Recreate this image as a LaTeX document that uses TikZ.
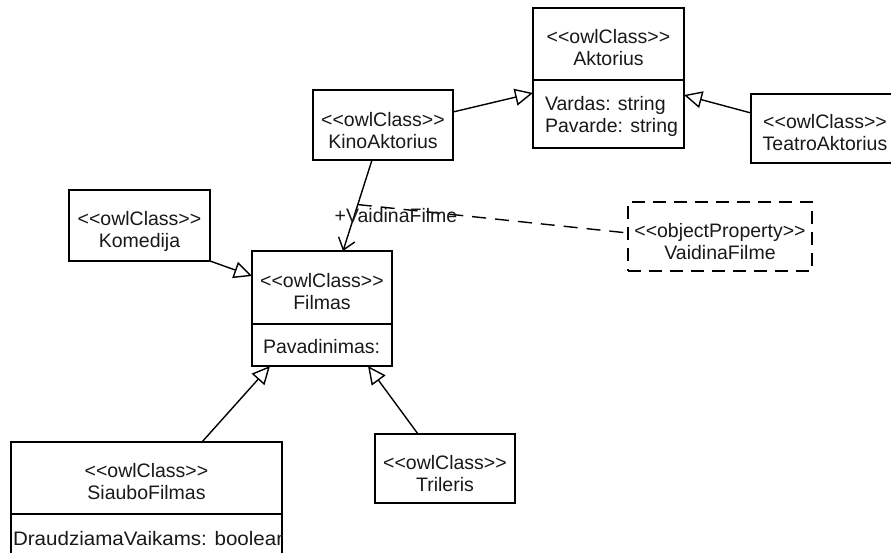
\documentclass[tikz,border=0pt]{standalone}
\usepackage{fontspec}
\newfontfamily\umlfont{Liberation Sans}
\newfontfamily\umlwide[FakeStretch=1.055]{Liberation Sans}
\usetikzlibrary{arrows.meta}
\newcommand\stereo[1]{<{}<#1>{}>}
\begin{document}
\begin{tikzpicture}[x=1pt,y=-1pt,
  every node/.style={inner sep=0pt, outer sep=0pt},
  umltext/.style={font=\umlfont\fontsize{19.5}{22}\selectfont, text=black!90},
  classbox/.style={draw, line width=1.4pt, rectangle, anchor=north west},
  propbox/.style={classbox, dashed, dash pattern=on 13pt off 8pt},
  header/.style={umltext, align=center},
  attrs/.style={umltext, align=left, anchor=west},
  gen/.style={line width=1.4pt, -{Triangle[open, length=18pt, width=17pt, fill=white]}},
  assoc/.style={line width=1.4pt, -{Straight Barb[length=11pt, width=17pt]}},
  link/.style={line width=1.4pt, dash pattern=on 14pt off 9pt}]
\useasboundingbox (0,0) rectangle (891,553);
\fill[white] (0,0) rectangle (891,553);
\clip (0,0) rectangle (891,553);

% class boxes
\node[classbox, minimum width=151pt, minimum height=140pt] (akt) at (533,8) {};
\node[classbox, minimum width=148pt, minimum height=69pt] (teatro) at (751,94) {};
\node[classbox, minimum width=140pt, minimum height=70pt] (kino) at (313,90) {};
\node[classbox, minimum width=141pt, minimum height=71pt] (komedija) at (69,190) {};
\node[classbox, minimum width=140pt, minimum height=115pt] (filmas) at (252,251) {};
\node[propbox, minimum width=184pt, minimum height=69pt] (prop) at (628,202) {};
\node[classbox, minimum width=271pt, minimum height=150pt] (siaubo) at (11,442) {};
\node[classbox, minimum width=140pt, minimum height=69pt] (trileris) at (375,434) {};

% compartment dividers
\draw[line width=1.4pt] (akt.west |- 0,80) -- (akt.east |- 0,80);
\draw[line width=1.4pt] (filmas.west |- 0,324) -- (filmas.east |- 0,324);
\draw[line width=1.4pt] (siaubo.west |- 0,514) -- (siaubo.east |- 0,514);

% names and stereotypes
\node[header] (akthead) at (608.5,47.5) {\stereo{owlClass}\\Aktorius};
\node[header] (teatrohead) at (825,133) {\stereo{owlClass}\\TeatroAktorius};
\node[header] (kinohead) at (383,131) {\stereo{owlClass}\\KinoAktorius};
\node[header] (komedijahead) at (139.5,231) {\stereo{owlClass}\\Komedija};
\node[header] (filmashead) at (322,292) {\stereo{owlClass}\\Filmas};
\node[header] (prophead) at (720,242) {\stereo{objectProperty}\\VaidinaFilme};
\node[header] (siaubohead) at (146.5,482) {\stereo{owlClass}\\SiauboFilmas};
\node[header] (trilerishead) at (445,473.5) {\stereo{owlClass}\\Trileris};

% attributes
\node[attrs] (aktattr) at (545,116.5) {Vardas: string\\Pavarde: string};
\node[attrs] (filmasattr) at (263,347) {Pavadinimas:};
\begin{scope}
  \clip (siaubo.north west) rectangle (siaubo.south east);
  \node[attrs, font=\umlwide\fontsize{19.5}{22}\selectfont] (siauboattr) at (13,539) {DraudziamaVaikams: boolean};
\end{scope}

% generalisations
\draw[gen] (kino.east |- 0,112) -- (akt.west |- 0,93);
\draw[gen] (teatro.west |- 0,113) -- (akt.east |- 0,95);
\draw[gen] (komedija.south east) -- (filmas.west |- 0,276);
\draw[gen] ([xshift=55.5pt]siaubo.north) -- ([xshift=-52pt]filmas.south);
\draw[gen] ([xshift=-27pt]trileris.north) -- ([xshift=46pt]filmas.south);

% association and its property
\draw[assoc] ([xshift=-11pt]kino.south) -- coordinate[pos=0.49] (assocmid) ([xshift=21pt]filmas.north);
\draw[link] (assocmid) -- (prop.west |- 0,233);
\node[umltext, anchor=base] (assoclabel) at (396,223) {+VaidinaFilme};
\end{tikzpicture}
\end{document}
